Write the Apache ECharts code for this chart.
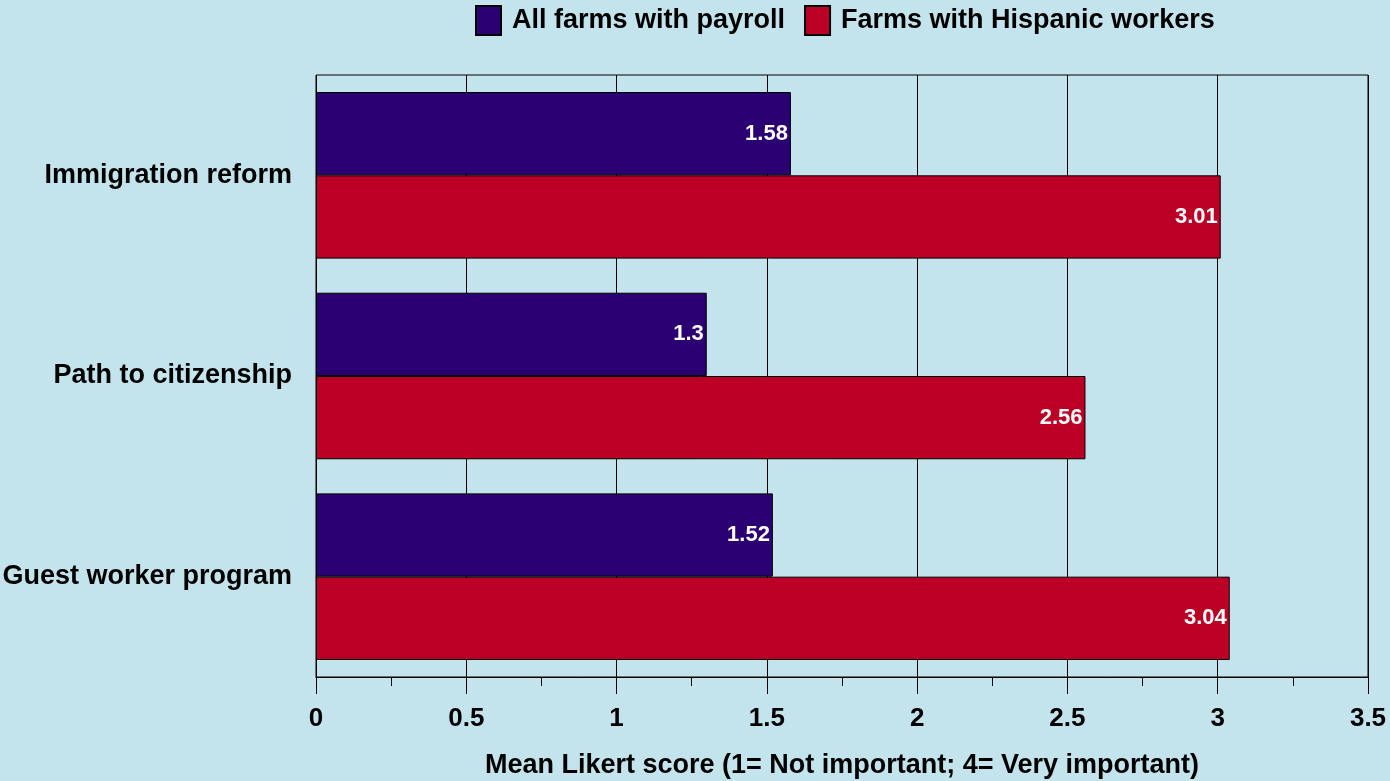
<!DOCTYPE html>
<html><head><meta charset="utf-8">
<script src="https://cdn.jsdelivr.net/npm/echarts@6/dist/echarts.min.js"></script>
<style>html,body{margin:0;padding:0;background:#C3E4EC}#c{width:1390px;height:781px}</style>
</head><body><div id="c"></div>
<script>
const categories = ['Immigration reform', 'Path to citizenship', 'Guest worker program'];
const allFarms = [1.58, 1.3, 1.52];
const hispanicFarms = [3.01, 2.56, 3.04];
const seriesNames = ['All farms with payroll', 'Farms with Hispanic workers'];
const axisTitle = 'Mean Likert score (1= Not important; 4= Very important)';

const font = '"Liberation Sans", Arial, sans-serif';
const chart = echarts.init(document.getElementById('c'));
const lbl = {show:true, position:'insideRight', distance:3, color:'#fff', fontFamily:font, fontWeight:'bold', fontSize:22};
chart.setOption({
  backgroundColor:'#C3E4EC',
  animation:false,
  legend:{
    top:5, left:475, padding:0, itemWidth:25, itemHeight:29, itemGap:19, icon:'rect',
    textStyle:{fontFamily:font, fontWeight:'bold', fontSize:27, color:'#000', padding:[0,0,0,6]},
    data:seriesNames
  },
  grid:{left:316, right:22, top:75, bottom:104, show:true, borderColor:'#000', borderWidth:1, backgroundColor:'transparent', outerBoundsMode:'none', containLabel:false},
  xAxis:{
    type:'value', min:0, max:3.5, interval:0.5,
    name:axisTitle, nameLocation:'middle', nameGap:75,
    nameTextStyle:{fontFamily:font, fontWeight:'bold', fontSize:27, color:'#000'},
    axisLine:{show:true, lineStyle:{color:'#000', width:1}},
    axisTick:{show:true, length:17, lineStyle:{color:'#000'}},
    minorTick:{show:true, splitNumber:2, length:9, lineStyle:{color:'#000'}},
    splitLine:{show:true, lineStyle:{color:'#000', width:1}},
    axisLabel:{fontFamily:font, fontWeight:'bold', fontSize:26, color:'#000', margin:29}
  },
  yAxis:{
    type:'category', data:categories, inverse:true,
    axisLine:{show:false}, axisTick:{show:false},
    axisLabel:{fontFamily:font, fontWeight:'bold', fontSize:27, color:'#000', margin:24, padding:[5,0,0,0]}
  },
  series:[
    {name:seriesNames[0], type:'bar', data:allFarms, barGap:'0%', barCategoryGap:'17%',
     itemStyle:{color:'#2A0073', borderColor:'#000', borderWidth:1}, label:lbl},
    {name:seriesNames[1], type:'bar', data:hispanicFarms, barGap:'0%', barCategoryGap:'17%',
     itemStyle:{color:'#BC0025', borderColor:'#000', borderWidth:1}, label:lbl}
  ]
});
</script></body></html>
